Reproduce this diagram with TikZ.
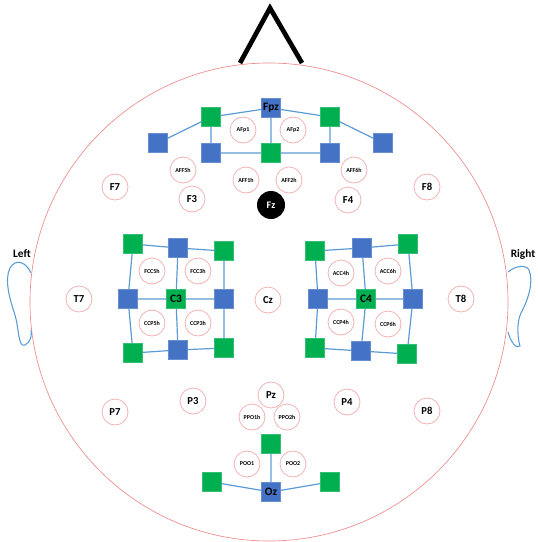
\documentclass[tikz,border=0pt]{standalone}
\usepackage{fontspec}
\setmainfont{Carlito}
\definecolor{headred}{RGB}{236,140,140}
\definecolor{ringred}{RGB}{244,178,178}
\definecolor{srcblue}{RGB}{68,114,196}
\definecolor{detgreen}{RGB}{0,176,80}
\definecolor{linkblue}{RGB}{91,155,213}
\tikzset{
  x=0.75pt, y=-0.75pt,
  elec/.style={circle, draw=ringred, line width=0.6pt, fill=white, minimum size=19.5pt, inner sep=0pt,
    font=\fontsize{8}{9}\selectfont\bfseries},
  selec/.style={elec, font=\fontsize{4.5}{5}\selectfont\bfseries},
  refelec/.style={circle, fill=black, minimum size=21pt, inner sep=0pt, text=white,
    font=\fontsize{7.5}{9}\selectfont\bfseries},
  src/.style={rectangle, fill=srcblue, draw=srcblue!80!white, line width=0.3pt, minimum size=14.25pt, inner sep=0pt,
    font=\fontsize{8.5}{9}\selectfont\bfseries},
  det/.style={rectangle, fill=detgreen, draw=detgreen!80!white, line width=0.3pt, minimum size=14.25pt, inner sep=0pt,
    font=\fontsize{8.5}{9}\selectfont\bfseries},
  link/.style={draw=linkblue, line width=0.9pt},
  side/.style={font=\fontsize{8.5}{10}\selectfont\bfseries},
}
\begin{document}
\begin{tikzpicture}
\useasboundingbox (0,0) rectangle (538,542);

% head outline
\draw[headred, line width=0.5pt] (269,302) circle[radius=239];

% nose
\coordinate (noseL) at (240,63);
\coordinate (noseT) at (270,8);
\coordinate (noseR) at (302,63);
\draw[black, line width=3.5pt, miter limit=10] (noseL) -- (noseT) -- (noseR);

% ears
\draw[linkblue, line width=0.8pt] (31,273) .. controls (26,262) and (16,258) .. (10,268)
  .. controls (4,280) and (10,300) .. (15,315)
  .. controls (19,328) and (18,348) .. (25,345)
  .. controls (31,342) and (32,335) .. (31,330);
\draw[linkblue, line width=0.8pt] (508,272) .. controls (515,266) and (526,264) .. (529,270)
  .. controls (534,282) and (528,300) .. (521,313)
  .. controls (516,323) and (518,340) .. (520,346)
  .. controls (516,350) and (510,340) .. (508,332);
\node[side] (lefttxt) at (22,254) {Left};
\node[side] (righttxt) at (523,254) {Right};

% ---------- frontal array ----------
\node[src] (fpz) at (271,108) {Fpz};
\node[det] (fgl) at (211,117) {};
\node[det] (fgr) at (330,117) {};
\node[src] (fbl) at (158,143) {};
\node[src] (fbr) at (383,143) {};
\node[src] (fsl) at (211,153) {};
\node[det] (fgc) at (271,153) {};
\node[src] (fsr) at (330,153) {};
\draw[link] (fpz) -- (fgl) (fpz) -- (fgr) (fpz) -- (fgc)
  (fgl) -- (fbl) (fgr) -- (fbr) (fgl) -- (fsl) (fgr) -- (fsr)
  (fsl) -- (fgc) (fgc) -- (fsr);

\node[selec] (afp1) at (243,130) {AFp1};
\node[selec] (afp2) at (293,130) {AFp2};
\node[selec] (aff5h) at (183,170) {AFF5h};
\node[selec] (aff1h) at (246,180) {AFF1h};
\node[selec] (aff2h) at (289,180) {AFF2h};
\node[selec] (aff6h) at (354,170) {AFF6h};
\node[elec] (f7) at (115,187) {F7};
\node[elec] (f3) at (192,199) {F3};
\node[refelec] (fz) at (271,205) {Fz};
\node[elec] (f4) at (348,200) {F4};
\node[elec] (f8) at (427,187) {F8};

% ---------- left central array ----------
\node[det] (lgtl) at (133,244) {};
\node[src] (lbtm) at (178,248) {};
\node[det] (lgtr) at (224,251) {};
\node[src] (lbml) at (128,299) {};
\node[det] (c3) at (176,299) {C3};
\node[src] (lbmr) at (224,299) {};
\node[det] (lgbl) at (133,353) {};
\node[src] (lbbm) at (178,350) {};
\node[det] (lgbr) at (224,348) {};
\draw[link] (lgtl) -- (lbtm) (lbtm) -- (lgtr)
  (lgtl) -- (lbml) (lbtm) -- (c3) (lgtr) -- (lbmr)
  (lbml) -- (c3) (c3) -- (lbmr)
  (lbml) -- (lgbl) (c3) -- (lbbm) (lbmr) -- (lgbr)
  (lgbl) -- (lbbm) (lbbm) -- (lgbr);
\node[selec] (fcc5h) at (152,271) {FCC5h};
\node[selec] (fcc3h) at (198,271) {FCC3h};
\node[selec] (ccp5h) at (152,323) {CCP5h};
\node[selec] (ccp3h) at (198,323) {CCP3h};

% ---------- right central array ----------
\node[det] (rgtl) at (315,251) {};
\node[src] (rbtm) at (362,248) {};
\node[det] (rgtr) at (408,244) {};
\node[src] (rbml) at (318,299) {};
\node[det] (c4) at (366,299) {C4};
\node[src] (rbmr) at (413,299) {};
\node[det] (rgbl) at (315,348) {};
\node[src] (rbbm) at (361,351) {};
\node[det] (rgbr) at (407,354) {};
\draw[link] (rgtl) -- (rbtm) (rbtm) -- (rgtr)
  (rgtl) -- (rbml) (rbtm) -- (c4) (rgtr) -- (rbmr)
  (rbml) -- (c4) (c4) -- (rbmr)
  (rbml) -- (rgbl) (c4) -- (rbbm) (rbmr) -- (rgbr)
  (rgbl) -- (rbbm) (rbbm) -- (rgbr);
\node[selec] (acc4h) at (341,273) {ACC4h};
\node[selec] (acc6h) at (388,271) {ACC6h};
\node[selec] (ccp4h) at (341,322) {CCP4h};
\node[selec] (ccp6h) at (388,324) {CCP6h};

% midline and temporal sites
\node[elec] (t7) at (79,299) {T7};
\node[elec] (cz) at (268,300) {Cz};
\node[elec] (t8) at (461,299) {T8};

% ---------- parietal / occipital ----------
\node[elec] (p7) at (115,412) {P7};
\node[elec] (p3) at (193,401) {P3};
\node[elec] (pz) at (271,395) {Pz};
\node[elec] (p4) at (347,402) {P4};
\node[elec] (p8) at (427,411) {P8};
\node[selec] (ppo1h) at (252,417) {PPO1h};
\node[selec] (ppo2h) at (287,417) {PPO2h};
\node[selec] (poo1) at (247,464) {POO1};
\node[selec] (poo2) at (293,464) {POO2};

\node[det] (ogt) at (271,444) {};
\node[det] (ogl) at (212,482) {};
\node[det] (ogr) at (330,482) {};
\node[src] (oz) at (271,492) {Oz};
\draw[link] (oz) -- (ogt) (oz) -- (ogl) (oz) -- (ogr);
\end{tikzpicture}
\end{document}
